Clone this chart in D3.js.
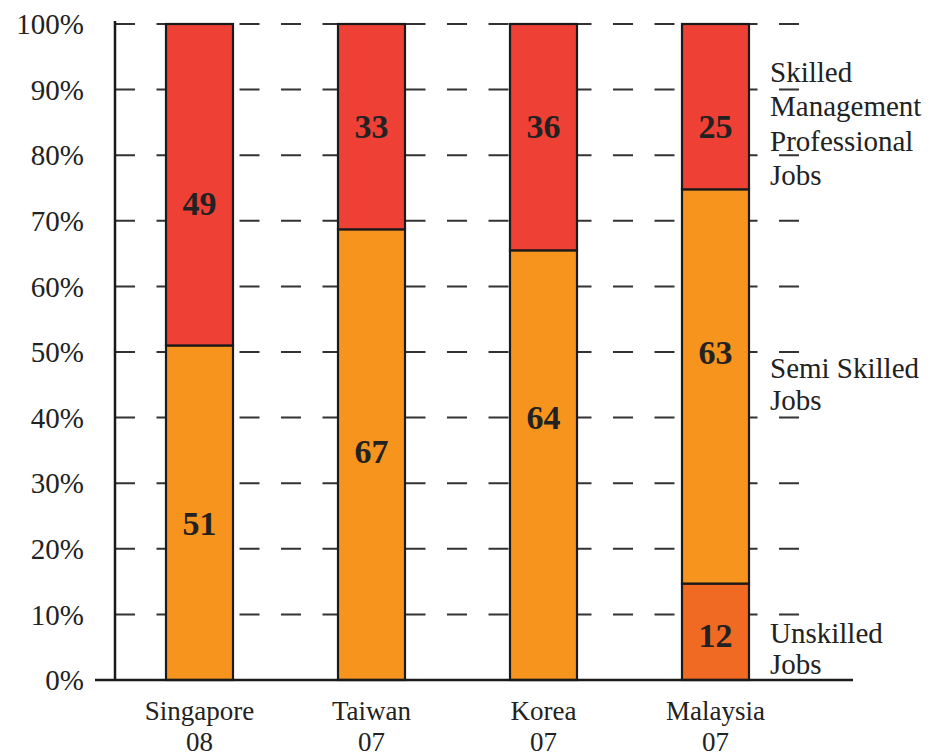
<!DOCTYPE html>
<html>
<head>
<meta charset="utf-8">
<script src="https://cdn.jsdelivr.net/npm/d3@7"></script>
<style>
  body { margin: 0; background: #fff; }
  svg text { font-family: "Liberation Serif", "Times New Roman", serif; fill: #222; }
</style>
</head>
<body>
<svg></svg>
<script>
var width = 937;
var height = 756;

// data (segment shares as drawn, in %)
var countries = ["Singapore", "Taiwan", "Korea", "Malaysia"];
var years = ["08", "07", "07", "07"];
var unskilled = [0, 0, 0, 14.7];
var semiSkilled = [51, 68.7, 65.5, 60.1];
var skilled = [49, 31.3, 34.5, 25.2];

// printed numbers and where they sit (in % units)
var unskilledText = ["", "", "", "12"];
var semiText = ["51", "67", "64", "63"];
var skilledText = ["49", "33", "36", "25"];
var unskilledAt = [0, 0, 0, 6.8];
var semiAt = [23.9, 34.9, 40.1, 50.0];
var skilledAt = [72.7, 84.5, 84.5, 84.5];

var yTicks = [0, 10, 20, 30, 40, 50, 60, 70, 80, 90, 100];

var series = [
  {key: "unskilled", values: unskilled, text: unskilledText, at: unskilledAt, color: "#F16A24"},
  {key: "semi", values: semiSkilled, text: semiText, at: semiAt, color: "#F7941E"},
  {key: "skilled", values: skilled, text: skilledText, at: skilledAt, color: "#EF4036"}
];

var svg = d3.select("svg").attr("width", width).attr("height", height);

var x = d3.scalePoint().domain(countries).range([199.5, 715.5]);
var y = d3.scaleLinear().domain([0, 100]).range([680, 24]);
var barW = 67;

// dashed grid
svg.append("g")
  .selectAll("line")
  .data(yTicks.filter(d => d > 0))
  .join("line")
  .attr("x1", 115)
  .attr("x2", 801)
  .attr("y1", d => y(d))
  .attr("y2", d => y(d))
  .attr("stroke", "#333")
  .attr("stroke-width", 2)
  .attr("stroke-dasharray", "20,21.5");

// tick labels
svg.append("g")
  .selectAll("text")
  .data(yTicks)
  .join("text")
  .attr("x", 84)
  .attr("y", d => y(d))
  .attr("dy", "0.35em")
  .attr("text-anchor", "end")
  .style("font-size", "29px")
  .text(d => d + "%");

// stacked bars
var stack = countries.map((c, i) => {
  var base = 0;
  return series.map(s => {
    var seg = {country: c, y0: base, y1: base + s.values[i], color: s.color, text: s.text[i], at: s.at[i]};
    base += s.values[i];
    return seg;
  }).filter(d => d.y1 > d.y0);
});

var bars = svg.append("g")
  .selectAll("g")
  .data(stack)
  .join("g");

bars.selectAll("rect")
  .data(d => d)
  .join("rect")
  .attr("x", d => x(d.country) - barW / 2)
  .attr("width", barW)
  .attr("y", d => y(d.y1))
  .attr("height", d => y(d.y0) - y(d.y1))
  .attr("fill", d => d.color)
  .attr("stroke", "#1a1a1a")
  .attr("stroke-width", 2.2);

bars.selectAll("text")
  .data(d => d)
  .join("text")
  .attr("x", d => x(d.country))
  .attr("y", d => y(d.at))
  .attr("dy", "0.35em")
  .attr("text-anchor", "middle")
  .style("font-size", "34px")
  .style("font-weight", "bold")
  .text(d => d.text);

// axes lines
svg.append("line")
  .attr("x1", 115).attr("x2", 115)
  .attr("y1", y(100) - 3).attr("y2", y(0))
  .attr("stroke", "#1a1a1a").attr("stroke-width", 2.5);
svg.append("line")
  .attr("x1", 95).attr("x2", 853)
  .attr("y1", y(0)).attr("y2", y(0))
  .attr("stroke", "#1a1a1a").attr("stroke-width", 2.5);

// category labels, two separate lines
svg.append("g")
  .selectAll("text")
  .data(countries)
  .join("text")
  .attr("x", d => x(d))
  .attr("y", 720)
  .attr("text-anchor", "middle")
  .style("font-size", "27px")
  .text(d => d);
svg.append("g")
  .selectAll("text")
  .data(years)
  .join("text")
  .attr("x", (d, i) => x(countries[i]))
  .attr("y", 751)
  .attr("text-anchor", "middle")
  .style("font-size", "27px")
  .text(d => d);

// series names on the right
var notes = [
  {lines: ["Skilled", "Management", "Professional", "Jobs"], top: 82, step: 34.3},
  {lines: ["Semi Skilled", "Jobs"], top: 378, step: 32},
  {lines: ["Unskilled", "Jobs"], top: 643, step: 31}
];
notes.forEach(n => {
  svg.append("text")
    .attr("x", 770)
    .style("font-size", "29px")
    .selectAll("tspan")
    .data(n.lines)
    .join("tspan")
    .attr("x", 770)
    .attr("y", (d, i) => n.top + i * n.step)
    .text(d => d);
});
</script>
</body>
</html>
